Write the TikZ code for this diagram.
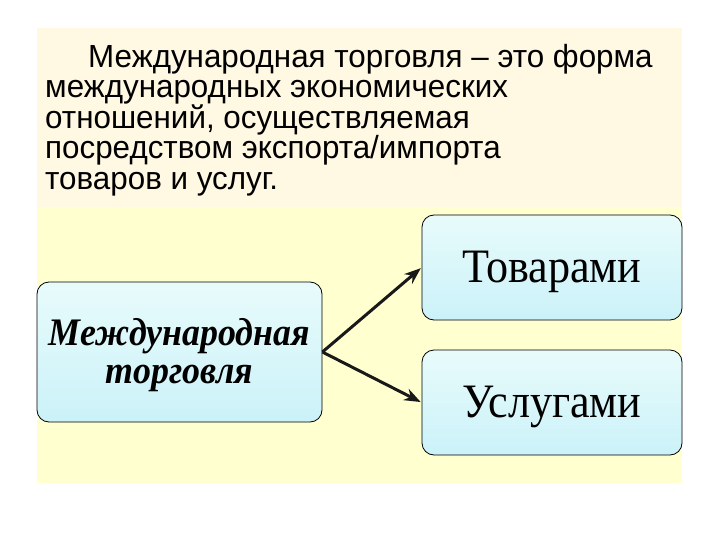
\documentclass[tikz,border=0pt]{standalone}
\usepackage{fontspec}
\setmainfont{Liberation Serif}
\newfontfamily\defnfont[FakeStretch=0.98]{Liberation Sans}
\newfontfamily\boxfont[FakeStretch=0.92]{Liberation Serif}
\usepackage{tikz}
\usetikzlibrary{arrows.meta, positioning, calc}

\definecolor{creamband}{HTML}{FFF8E2}
\definecolor{yellowband}{HTML}{FFFFD0}
\definecolor{boxtop}{HTML}{E8FBFB}
\definecolor{boxbot}{HTML}{CBF2F9}

\begin{document}
\begin{tikzpicture}[
    x=1pt, y=-1pt,
    >=Stealth,
    band/.style={draw=none},
    topic/.style={rectangle, rounded corners=12pt, draw=black, line width=0.8pt,
        top color=boxtop, bottom color=boxbot, inner sep=0pt},
    kind/.style={topic, minimum width=260pt, minimum height=105pt,
        text height=30pt, text depth=0pt, font=\boxfont\fontsize{48}{48}\selectfont},
    conn/.style={->, line width=3pt, black!90, shorten >=1pt}
]

% -------- Page --------
\useasboundingbox[fill=white] (0,0) rectangle (720,540);

% -------- Y levels --------
\def\ybandtop{28}
\def\ysplit{207}
\def\ybandbot{483}

% -------- X positions --------
\def\xleft{37}
\def\xright{682}

% -------- Background bands --------
\fill[band, creamband] (\xleft,\ybandtop) rectangle (\xright,\ysplit);
\fill[band, yellowband] (\xleft,\ysplit) rectangle (\xright,\ybandbot);

% -------- Definition text --------
\node[anchor=north west, inner sep=0pt, align=left,
      font=\defnfont\fontsize{32}{30.5}\selectfont] (defn) at (45,44)
    {\hspace*{43pt}Международная торговля – это форма\\
     международных экономических\\
     отношений, осуществляемая\\
     посредством экспорта/импорта\\
     товаров и услуг.};

% -------- Boxes --------
\node[topic, minimum width=285pt, minimum height=140pt, align=center,
      text height=62pt, text depth=0pt,
      font=\boxfont\fontsize{39}{38}\selectfont\bfseries\itshape] (trade) at (179.5,352)
    {Международная\\торговля};

\node[kind] (goods) at (552,267.5) {Товарами};
\node[kind] (services) at (552,402.5) {Услугами};

% -------- Arrows --------
\draw[conn] (trade.east) -- (goods.west);
\draw[conn] (trade.east) -- (services.west);

\end{tikzpicture}
\end{document}
